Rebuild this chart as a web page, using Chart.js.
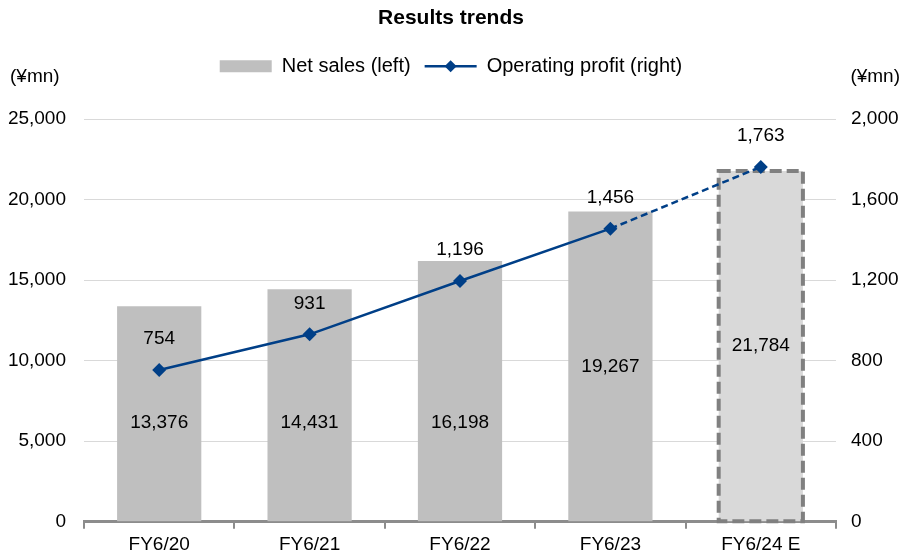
<!DOCTYPE html>
<html>
<head>
<meta charset="utf-8">
<script src="https://cdn.jsdelivr.net/npm/chart.js@4.4.1/dist/chart.umd.min.js"></script>
<style>
  html, body { margin: 0; padding: 0; background: #ffffff; }
  #wrap { width: 902px; height: 556px; position: relative; }
</style>
</head>
<body>
<div id="wrap"><canvas id="c" width="902" height="556"></canvas></div>
<script>
const categories = ['FY6/20', 'FY6/21', 'FY6/22', 'FY6/23', 'FY6/24 E'];
const netSales = [13376, 14431, 16198, 19267, 21784];
const operatingProfit = [754, 931, 1196, 1456, 1763];
const leftTicks = [0, 5000, 10000, 15000, 20000, 25000];
const rightTicks = [0, 400, 800, 1200, 1600, 2000];
const seriesNames = ['Net sales (left)', 'Operating profit (right)'];
const unitLabel = '(¥mn)';
const titleText = 'Results trends';

const FONT = "'Liberation Sans', Arial, sans-serif";
const BAR = '#bfbfbf';
const BAR_E = '#d9d9d9';
const LINE = '#003f87';
const TXT = '#000000';
const fmt = v => Number(v).toLocaleString('en-US');

const legendGap = {
  id: 'legendGap',
  beforeUpdate(chart) {
    const lg = chart.legend;
    if (lg && !lg._gapPatched) {
      const fit = lg.fit;
      lg.fit = function () { fit.call(this); this.height += 33; };
      lg._gapPatched = true;
    }
  }
};

const labelPlugin = {
  id: 'customLabels',
  afterDatasetDraw(chart, args) {
    if (args.index !== 0) return;
    const ctx = chart.ctx;
    const meta = chart.getDatasetMeta(0);
    const el = meta.data[meta.data.length - 1];
    const w = el.width;
    ctx.save();
    ctx.strokeStyle = '#808080';
    ctx.lineWidth = 4;
    ctx.setLineDash([12, 5]);
    ctx.strokeRect(el.x - w / 2, el.y, w, el.base - el.y);
    ctx.restore();
  },
  afterDraw(chart, args, opts) {
    const ctx = chart.ctx;
    const yL = chart.scales.y;
    ctx.save();
    ctx.fillStyle = TXT;
    ctx.font = "19px " + FONT;
    ctx.textAlign = 'center';
    ctx.textBaseline = 'middle';
    const bm = chart.getDatasetMeta(0);
    bm.data.forEach((el, i) => {
      let y = (el.y + el.base) / 2;
      const a = opts.salesLabelAt[i];
      if (a != null) y = yL.getPixelForValue(a);
      ctx.fillText(fmt(netSales[i]), el.x, y);
    });
    const lm = chart.getDatasetMeta(1);
    lm.data.forEach((el, i) => {
      ctx.fillText(fmt(operatingProfit[i]), el.x, el.y - 31);
    });
    ctx.textAlign = 'left';
    ctx.fillText(unitLabel, 10, 77);
    ctx.textAlign = 'right';
    ctx.fillText(unitLabel, 900, 77);
    const hb = chart.legend.legendHitBoxes[1];
    if (hb) {
      const cy = hb.top + hb.height / 2;
      const x0 = hb.left, x1 = hb.left + 52;
      ctx.strokeStyle = LINE;
      ctx.lineWidth = 2.5;
      ctx.beginPath();
      ctx.moveTo(x0, cy); ctx.lineTo(x1, cy); ctx.stroke();
      const cx = (x0 + x1) / 2, r = 6;
      ctx.fillStyle = LINE;
      ctx.beginPath();
      ctx.moveTo(cx, cy - r); ctx.lineTo(cx + r, cy); ctx.lineTo(cx, cy + r); ctx.lineTo(cx - r, cy);
      ctx.closePath(); ctx.fill();
    }
    ctx.restore();
  }
};

new Chart(document.getElementById('c'), {
  data: {
    labels: categories,
    datasets: [
      {
        type: 'bar',
        label: seriesNames[0],
        data: netSales,
        yAxisID: 'y',
        backgroundColor: netSales.map((v, i) => i === netSales.length - 1 ? BAR_E : BAR),
        borderWidth: 0,
        categoryPercentage: 1.0,
        barPercentage: 0.56,
        order: 2
      },
      {
        type: 'line',
        label: seriesNames[1],
        data: operatingProfit,
        yAxisID: 'y1',
        borderColor: LINE,
        backgroundColor: LINE,
        borderWidth: 2.5,
        pointStyle: 'rectRot',
        pointRadius: 7,
        pointHoverRadius: 7,
        pointBackgroundColor: LINE,
        pointBorderColor: LINE,
        pointBorderWidth: 0,
        tension: 0,
        segment: {
          borderDash: c => c.p1DataIndex === operatingProfit.length - 1 ? [7, 4] : undefined
        },
        order: 1
      }
    ]
  },
  options: {
    responsive: false,
    animation: false,
    devicePixelRatio: 1,
    layout: { padding: { left: 0, right: 0, top: 3, bottom: -4 } },
    plugins: {
      title: {
        display: true,
        text: titleText,
        color: TXT,
        font: { family: FONT, size: 21, weight: 'bold' },
        padding: { top: 3, bottom: 11 }
      },
      legend: {
        display: true,
        position: 'top',
        labels: {
          color: TXT,
          font: { family: FONT, size: 20 },
          boxWidth: 52,
          boxHeight: 12,
          padding: 14,
          generateLabels: chart => chart.data.datasets.map((ds, i) => ({
            text: ds.label,
            fillStyle: i === 0 ? BAR : 'rgba(0,0,0,0)',
            strokeStyle: 'rgba(0,0,0,0)',
            lineWidth: 0,
            fontColor: TXT,
            datasetIndex: i,
            hidden: false
          }))
        }
      },
      tooltip: { enabled: false },
      customLabels: { salesLabelAt: [6150, 6150, 6150, null, null] }
    },
    scales: {
      x: {
        grid: { display: true, drawOnChartArea: false, drawTicks: true, tickLength: 7, color: '#8c8c8c', lineWidth: 2, offset: true },
        border: { display: true, color: '#8c8c8c', width: 3 },
        ticks: { color: TXT, font: { family: FONT, size: 19, lineHeight: 0.7 }, padding: 9 }
      },
      y: {
        position: 'left',
        min: 0, max: 25000,
        afterBuildTicks: s => { s.ticks = leftTicks.map(v => ({ value: v })); },
        afterFit: s => { s.width = 84; },
        grid: { color: '#d9d9d9', lineWidth: 1, drawTicks: false },
        border: { display: false },
        ticks: { color: TXT, font: { family: FONT, size: 19 }, padding: 18, callback: v => fmt(v) }
      },
      y1: {
        position: 'right',
        min: 0, max: 2000,
        afterBuildTicks: s => { s.ticks = rightTicks.map(v => ({ value: v })); },
        afterFit: s => { s.width = 66; },
        grid: { display: false, drawTicks: false },
        border: { display: false },
        ticks: { color: TXT, font: { family: FONT, size: 19 }, padding: 15, callback: v => fmt(v) }
      }
    }
  },
  plugins: [legendGap, labelPlugin]
});
</script>
</body>
</html>
